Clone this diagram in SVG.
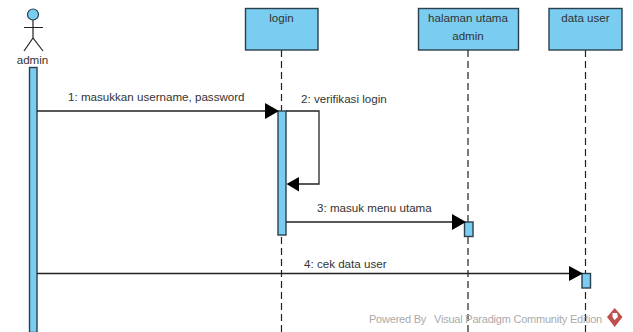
<svg xmlns="http://www.w3.org/2000/svg" width="633" height="332" viewBox="0 0 633 332">
<style>
text{font-family:"Liberation Sans",Arial,sans-serif;font-size:11.6px;fill:#333}
.m{text-anchor:middle}
.box{fill:#7accf0;stroke:#2b3f4c;stroke-width:1.4}
.life{stroke:#222;stroke-width:1.2;stroke-dasharray:7 4;fill:none}
.msg{stroke:#222;stroke-width:1.3;fill:none}
.ah{fill:#000}
.act{stroke:#222;stroke-width:1.2;fill:none}
.wm{font-size:11px;fill:#aaa;letter-spacing:-.22px}
</style>
<rect width="633" height="332" fill="#fff"/>
<g id="lifelines">
<line class="life" x1="281.5" y1="50" x2="281.5" y2="332"/>
<line class="life" x1="468" y1="50" x2="468" y2="332"/>
<line class="life" x1="585.5" y1="50" x2="585.5" y2="332"/>
</g>
<g id="admin">
<circle cx="33" cy="14.500" r="5.500" fill="#7accf0" stroke="#2b3f4c" stroke-width="1.200"/>
<path class="act" d="M33 20V38M24 27.500H43M24 51L33 38L43 51"/>
<text class="m" x="32.500" y="63.500">admin</text>
<rect class="box" x="29.500" y="67.500" width="7.500" height="265"/>
</g>
<g id="login">
<rect class="box" x="245.500" y="8.500" width="72.500" height="41.500"/>
<text class="m" x="281.500" y="22">login</text>
<rect class="box" x="278" y="111" width="8" height="124"/>
</g>
<g id="halaman">
<rect class="box" x="418.500" y="8.500" width="100" height="41.500"/>
<text class="m" x="468" y="22">halaman utama</text>
<text class="m" x="468" y="40">admin</text>
<rect class="box" x="464.500" y="222" width="8.500" height="14.500"/>
</g>
<g id="data-user">
<rect class="box" x="549" y="8.500" width="73" height="41.500"/>
<text class="m" x="585.500" y="22">data user</text>
<rect class="box" x="582" y="273.500" width="8.500" height="14.500"/>
</g>
<g id="connectors">
<path class="msg" d="M37 111H266"/>
<path class="ah" d="M265 103L279 111L265 119Z"/>
<path class="msg" d="M286 111H319V184H298"/>
<path class="ah" d="M299 177L286.500 184L299 191.500Z"/>
<path class="msg" d="M286 222H453"/>
<path class="ah" d="M452 214L466 222L452 230Z"/>
<path class="msg" d="M37 273.500H570"/>
<path class="ah" d="M569 266L583 273.500L569 281Z"/>
</g>
<g id="labels">
<text x="68" y="101">1: masukkan username, password</text>
<text x="301" y="103">2: verifikasi login</text>
<text x="317" y="212">3: masuk menu utama</text>
<text x="304" y="268">4: cek data user</text>
</g>
<g id="watermark">
<text class="wm" x="369" y="323">Powered By <tspan x="434">Visual Paradigm Community Edition</tspan></text>
<path d="M614.700 308L622.500 317L614.700 327L607 317Z" fill="#c0504d"/>
<path d="M612.500 313H617L618 317L614.500 320L612.500 317Z" fill="#fff"/>
</g>
</svg>
